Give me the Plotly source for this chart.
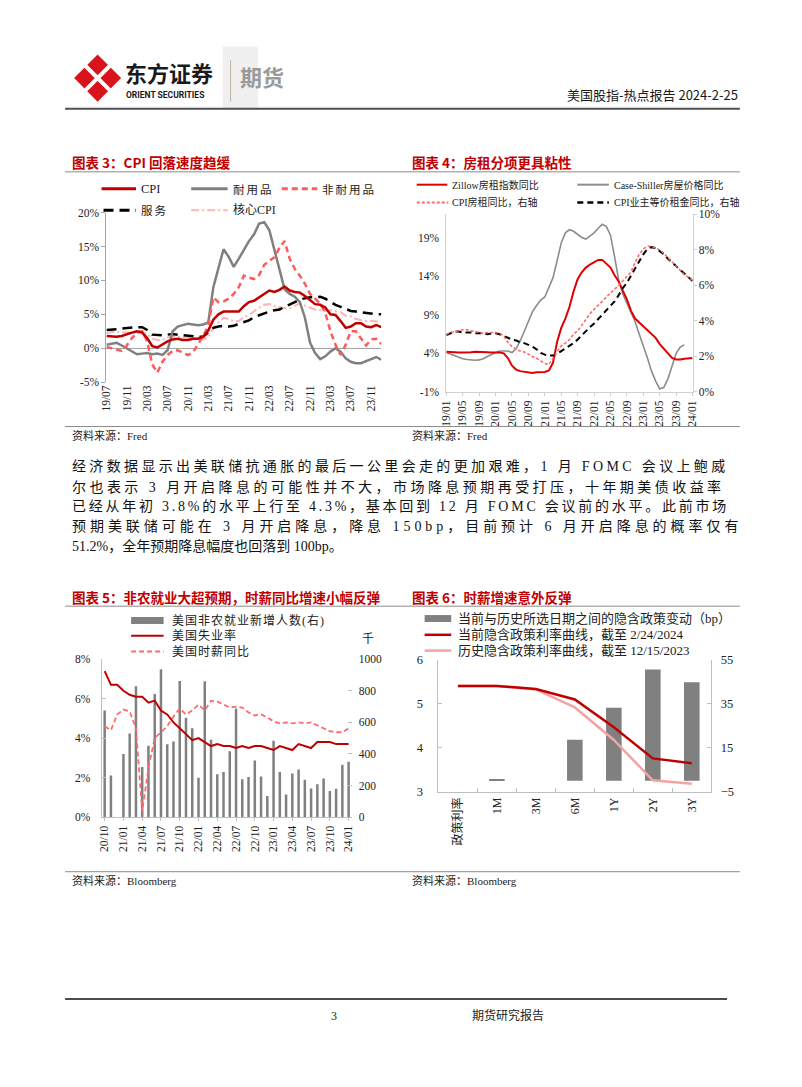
import plotly.graph_objects as go

W, H = 802, 1087


def px(x):
    return x / W


def py(y):
    return 1 - y / H


def months(y0, m0, n):
    out = []
    y, m = y0, m0
    for _ in range(n):
        out.append(f"{y}-{m:02d}")
        m += 1
        if m > 12:
            m = 1
            y += 1
    return out


SERIF = "Liberation Serif, Noto Sans CJK SC"
CJK = "Noto Sans CJK SC"
RED = "#C00000"

# ---------------- Chart 3 data (CPI components, YoY %) ----------------
c3_months = months(2019, 7, 55)
c3_ticktext = ["19/07", "19/11", "20/03", "20/07", "20/11", "21/03", "21/07",
               "21/11", "22/03", "22/07", "22/11", "23/03", "23/07", "23/11"]
c3_yvals = [-5, 0, 5, 10, 15, 20]
c3_ylabels = ["-5%", "0%", "5%", "10%", "15%", "20%"]
cpi = [1.8, 1.7, 1.7, 1.8, 2.1, 2.3, 2.5, 2.3, 1.5, 0.3, 0.1, 0.6, 1.0, 1.3,
       1.4, 1.2, 1.2, 1.4, 1.4, 1.7, 2.6, 4.2, 5.0, 5.4, 5.4, 5.3, 5.4, 6.2,
       6.8, 7.0, 7.5, 7.9, 8.5, 8.3, 8.6, 9.1, 8.5, 8.3, 8.2, 7.7, 7.1, 6.5,
       6.4, 6.0, 5.0, 4.9, 4.0, 3.0, 3.2, 3.7, 3.7, 3.2, 3.1, 3.4, 3.1]
durables = [0.5, 0.6, 0.8, 0.4, 0.0, -0.4, -0.9, -0.8, -0.7, -0.9, -0.8, -1.0,
            -0.3, 2.5, 3.2, 3.4, 3.6, 3.5, 3.4, 3.5, 3.8, 9.0, 12.0, 14.6,
            13.5, 12.0, 13.2, 14.5, 15.8, 16.8, 18.4, 18.6, 17.4, 14.5, 11.5,
            8.7, 8.0, 7.6, 6.8, 4.5, 0.8, -0.7, -1.6, -1.2, -0.5, 0.0, -0.5,
            -1.5, -2.0, -2.2, -2.2, -1.9, -1.5, -1.3, -1.7]
nondurables = [0.2, 0.0, -0.3, -0.4, 0.4, 1.5, 2.3, 2.5, 1.0, -2.4, -3.6, -2.0,
               -1.0, -0.4, -0.3, -0.6, -1.0, -0.6, 0.6, 1.8, 3.3, 7.5, 6.8,
               6.9, 7.3, 8.0, 9.0, 10.7, 10.4, 10.2, 10.8, 12.3, 12.9, 13.4,
               14.8, 15.8, 13.2, 11.7, 10.7, 9.5, 8.0, 7.3, 6.6, 5.2, 2.5, 0.5,
               -1.0, 0.5, 2.5, 2.5, 1.5, 0.4, 1.3, 1.4, 0.6]
services = [2.7, 2.7, 2.8, 2.9, 3.0, 3.0, 3.1, 3.1, 2.7, 2.0, 1.9, 1.9, 2.0,
            2.1, 2.0, 1.9, 1.8, 1.7, 1.7, 1.7, 2.3, 3.0, 3.2, 3.3, 3.2, 3.3,
            3.6, 3.9, 4.1, 4.6, 4.9, 5.2, 5.4, 5.6, 5.7, 6.1, 6.4, 6.8, 7.2,
            7.4, 7.5, 7.5, 7.6, 7.3, 6.8, 6.4, 6.1, 5.8, 5.5, 5.4, 5.3, 5.1,
            5.0, 5.0, 5.0]
core_cpi = [2.2, 2.4, 2.4, 2.3, 2.3, 2.3, 2.3, 2.4, 2.1, 1.4, 1.2, 1.2, 1.6,
            1.7, 1.7, 1.6, 1.6, 1.6, 1.4, 1.3, 1.6, 3.0, 3.8, 4.5, 4.3, 4.0,
            4.0, 4.6, 4.9, 5.5, 6.0, 6.4, 6.5, 6.2, 6.0, 5.9, 5.9, 6.3, 6.6,
            6.3, 6.0, 5.7, 5.6, 5.5, 5.6, 5.5, 5.3, 4.8, 4.7, 4.3, 4.1, 4.0,
            4.0, 3.9, 3.9]

# ---------------- Chart 4 data (rent, YoY %) ----------------
c4_months = months(2019, 1, 61)
c4_ticktext = ["19/01", "19/05", "19/09", "20/01", "20/05", "20/09", "21/01",
               "21/05", "21/09", "22/01", "22/05", "22/09", "23/01", "23/05",
               "23/09", "24/01"]
c4_lvals = [-1, 4, 9, 14, 19]
c4_llabels = ["-1%", "4%", "9%", "14%", "19%"]
c4_rvals = [0, 2, 4, 6, 8, 10]
c4_rlabels = ["0%", "2%", "4%", "6%", "8%", "10%"]
zillow = [4.2, 4.15, 4.1, 4.1, 4.1, 4.1, 4.15, 4.2, 4.2, 4.2, 4.15, 4.1, 4.1,
          4.1, 4.0, 3.4, 2.4, 1.9, 1.7, 1.6, 1.5, 1.45, 1.55, 1.6, 1.6, 1.8,
          2.8, 5.5, 7.3, 8.5, 10.0, 12.0, 13.6, 14.5, 15.1, 15.5, 15.8, 16.1,
          16.1, 15.6, 15.1, 14.1, 13.3, 12.1, 11.0, 9.5, 8.5, 8.0, 7.5, 7.0,
          6.5, 6.0, 5.2, 4.6, 3.9, 3.4, 3.2, 3.2, 3.3, 3.35, 3.4]
case_shiller = [4.1, 3.9, 3.7, 3.45, 3.3, 3.2, 3.15, 3.1, 3.15, 3.3, 3.6, 3.9,
                4.1, 4.3, 4.3, 4.3, 4.1, 4.6, 5.6, 6.9, 8.2, 9.4, 10.2, 10.9,
                11.3, 12.5, 13.8, 16.0, 18.3, 19.6, 20.0, 19.8, 19.4, 19.0,
                18.8, 19.2, 19.6, 20.2, 20.7, 20.4, 19.3, 16.5, 13.5, 11.7,
                10.5, 9.2, 8.1, 6.5, 5.0, 3.4, 1.7, 0.4, -0.6, -0.4, 0.7, 2.5,
                4.0, 4.8, 5.1, None, None]
cpi_rent = [3.25, 3.35, 3.4, 3.45, 3.5, 3.5, 3.45, 3.4, 3.35, 3.3, 3.35, 3.35,
            3.35, 3.3, 3.15, 2.8, 2.55, 2.4, 2.3, 2.25, 2.1, 2.0, 1.9, 1.75,
            1.6, 1.55, 1.9, 2.3, 2.6, 2.75, 2.95, 3.25, 3.45, 3.75, 4.1, 4.4,
            4.65, 4.85, 5.1, 5.35, 5.55, 5.75, 6.0, 6.25, 6.5, 6.75, 7.3, 7.75,
            8.05, 8.2, 8.2, 8.1, 8.0, 7.8, 7.55, 7.3, 7.05, 6.8, 6.6, 6.45, 6.3]
oer = [3.2, 3.3, 3.4, 3.4, 3.35, 3.35, 3.35, 3.3, 3.3, 3.3, 3.25, 3.3, 3.3,
       3.25, 3.15, 3.05, 2.95, 2.9, 2.8, 2.75, 2.65, 2.55, 2.4, 2.2, 2.1, 2.05,
       2.05, 2.15, 2.3, 2.45, 2.6, 2.75, 2.95, 3.2, 3.45, 3.65, 3.85, 4.1,
       4.35, 4.55, 4.8, 5.1, 5.45, 5.85, 6.15, 6.55, 6.95, 7.35, 7.75, 8.05,
       8.15, 8.1, 7.95, 7.75, 7.5, 7.3, 7.05, 6.85, 6.65, 6.45, 6.25]

# ---------------- Chart 5 data (payrolls / unemployment / wages) ----------------
c5_months = months(2020, 10, 40)
c5_ticktext = ["20/10", "21/01", "21/04", "21/07", "21/10", "22/01", "22/04",
               "22/07", "22/10", "23/01", "23/04", "23/07", "23/10", "24/01"]
c5_lvals = [0, 2, 4, 6, 8]
c5_llabels = ["0%", "2%", "4%", "6%", "8%"]
c5_rvals = [0, 200, 400, 600, 800, 1000]
payrolls = [675, 264, None, 400, 529, 829, 317, 452, 779, 937, 462, 479, 862,
            629, 562, 250, 860, 490, 271, 285, 417, 687, 240, 254, 358, 258,
            133, 483, 285, 144, 277, 302, 237, 181, 208, 244, 165, 179, 331,
            350]
unemployment = [7.4, 6.7, 6.7, 6.4, 6.2, 6.1, 6.1, 5.8, 5.9, 5.4, 5.2, 4.8,
                4.5, 4.2, 3.9, 4.0, 3.8, 3.6, 3.7, 3.6, 3.6, 3.5, 3.6, 3.5,
                3.6, 3.6, 3.5, 3.4, 3.6, 3.5, 3.4, 3.7, 3.6, 3.5, 3.8, 3.8,
                3.8, 3.7, 3.7, 3.7]
wages = [4.6, 4.4, 5.2, 5.45, 5.35, 4.5, 0.3, 2.5, 4.0, 4.3, 4.6, 5.1, 5.5,
         5.2, 5.4, 5.7, 5.4, 5.9, 5.85, 5.7, 5.55, 5.6, 5.55, 5.3, 5.15, 5.2,
         5.05, 4.85, 4.75, 4.8, 4.75, 4.8, 4.75, 4.8, 4.65, 4.5, 4.35, 4.3,
         4.3, 4.5]

# ---------------- Chart 6 data (implied policy path) ----------------
c6_cats = ["政策利率", "1M", "3M", "6M", "1Y", "2Y", "3Y"]
c6_lvals = [3, 4, 5, 6]
c6_rvals = [-5, 15, 35, 55]
change_bp = [0, 0.8, 0, 18.7, 33.2, 50.7, 44.9]
curve_now = [5.41, 5.41, 5.34, 5.10, 4.47, 3.76, 3.65]
curve_hist = [5.41, 5.41, 5.33, 4.92, 4.18, 3.26, 3.18]

fig = go.Figure()

# Chart 3 traces
c3_styles = [
    ("核心CPI", core_cpi, dict(color="#FFB3B3", width=2, dash="8px,3px,2px,3px")),
    ("服务", services, dict(color="#000000", width=2.5, dash="10px,6px")),
    ("耐用品", durables, dict(color="#808080", width=2.5)),
    ("非耐用品", nondurables, dict(color="#FF5B5B", width=2.5, dash="6px,4px")),
    ("CPI", cpi, dict(color=RED, width=2.5)),
]
for name, vals, ln in c3_styles:
    fig.add_trace(go.Scatter(x=c3_months, y=vals, name=name, mode="lines",
                             line=ln, xaxis="x", yaxis="y", showlegend=False))

# Chart 4 traces
fig.add_trace(go.Scatter(x=c4_months, y=case_shiller, name="Case-Shiller房屋价格同比",
                         mode="lines", line=dict(color="#8C8C8C", width=1.6),
                         xaxis="x2", yaxis="y2", showlegend=False))
fig.add_trace(go.Scatter(x=c4_months, y=zillow, name="Zillow房租指数同比",
                         mode="lines", line=dict(color="#E00000", width=2),
                         xaxis="x2", yaxis="y2", showlegend=False))
fig.add_trace(go.Scatter(x=c4_months, y=oer, name="CPI业主等价租金同比，右轴",
                         mode="lines", line=dict(color="#000000", width=2, dash="6px,4px"),
                         xaxis="x2", yaxis="y3", showlegend=False))
fig.add_trace(go.Scatter(x=c4_months, y=cpi_rent, name="CPI房租同比，右轴",
                         mode="lines", line=dict(color="#FF6B6B", width=1.6, dash="3px,2px"),
                         xaxis="x2", yaxis="y3", showlegend=False))

# Chart 5 traces (bars on base right axis, lines on overlaying left axis)
fig.add_trace(go.Bar(x=c5_months, y=payrolls, name="美国非农就业新增人数(右)",
                     marker=dict(color="#808080", line=dict(width=0)), width=0.4,
                     xaxis="x3", yaxis="y4", showlegend=False))
fig.add_trace(go.Scatter(x=c5_months, y=wages, name="美国时薪同比", mode="lines",
                         line=dict(color="#FF6B6B", width=1.8, dash="5px,3px"),
                         xaxis="x3", yaxis="y5", showlegend=False))
fig.add_trace(go.Scatter(x=c5_months, y=unemployment, name="美国失业率", mode="lines",
                         line=dict(color=RED, width=2),
                         xaxis="x3", yaxis="y5", showlegend=False))

# Chart 6 traces
fig.add_trace(go.Bar(x=c6_cats, y=change_bp, name="当前与历史所选日期之间的隐含政策变动（bp）",
                     marker=dict(color="#808080", line=dict(width=0)), width=0.4,
                     xaxis="x4", yaxis="y6", showlegend=False))
fig.add_trace(go.Scatter(x=c6_cats, y=curve_hist, name="历史隐含政策利率曲线", mode="lines",
                         line=dict(color="#F4A3A3", width=2.5),
                         xaxis="x4", yaxis="y7", showlegend=False))
fig.add_trace(go.Scatter(x=c6_cats, y=curve_now, name="当前隐含政策利率曲线", mode="lines",
                         line=dict(color=RED, width=2.5),
                         xaxis="x4", yaxis="y7", showlegend=False))

tickfont = dict(family=SERIF, size=11.5, color="#222222")
AX = "#A6A6A6"

layout = dict(
    width=W, height=H, margin=dict(l=0, r=0, t=0, b=0),
    paper_bgcolor="white", plot_bgcolor="rgba(0,0,0,0)",
    font=dict(family=SERIF, color="#222222"),
    # chart 3
    xaxis=dict(domain=[px(102), px(381)], anchor="y", type="category",
               range=[0, 54], tickmode="array", tickvals=c3_months[::4],
               ticktext=c3_ticktext, tickangle=-90, tickfont=tickfont,
               showline=False, showgrid=False, zeroline=False, ticks=""),
    yaxis=dict(domain=[py(380), py(208.3)], anchor="x", range=[-5, 20],
               tickmode="array", tickvals=c3_yvals, ticktext=c3_ylabels,
               tickfont=tickfont, showline=True, linecolor=AX, linewidth=1,
               ticks="outside", ticklen=4, tickcolor=AX, showgrid=False,
               zeroline=True, zerolinecolor=AX, zerolinewidth=1),
    # chart 4
    xaxis2=dict(domain=[px(447), px(697)], anchor="y2", type="category",
                range=[0, 60], tickmode="array", tickvals=c4_months[::4],
                ticktext=c4_ticktext, tickangle=-90, tickfont=tickfont,
                showline=True, linecolor="#D0D0D0", ticks="outside", ticklen=3,
                tickcolor="#D0D0D0", showgrid=False, zeroline=False),
    yaxis2=dict(domain=[py(390), py(210)], anchor="x2", range=[-1, 22],
                tickmode="array", tickvals=c4_lvals, ticktext=c4_llabels,
                tickfont=tickfont, showline=True, linecolor="#D0D0D0", ticks="",
                ticklabelstandoff=4, showgrid=False, zeroline=False),
    yaxis3=dict(overlaying="y2", anchor="x2", side="right", range=[0, 10],
                tickmode="array", tickvals=c4_rvals, ticktext=c4_rlabels,
                tickfont=tickfont, showline=True, linecolor="#D0D0D0",
                ticks="outside", ticklen=3, tickcolor="#D0D0D0", showgrid=False,
                zeroline=False),
    # chart 5
    xaxis3=dict(domain=[px(97), px(351)], anchor="y4", type="category",
                range=[-0.5, 39.5], tickmode="array", tickvals=c5_months[::3],
                ticktext=c5_ticktext, tickangle=-90, tickfont=tickfont,
                showline=True, linecolor="#BFBFBF", ticks="outside", ticklen=3,
                tickcolor="#BFBFBF", showgrid=False, zeroline=False),
    yaxis4=dict(domain=[py(820.7), py(660.7)], anchor="x3", side="right",
                range=[0, 1000], tickmode="array", tickvals=c5_rvals,
                tickfont=tickfont, showline=False, ticks="inside", ticklen=4,
                tickcolor="#BFBFBF", ticklabelstandoff=6, showgrid=False,
                zeroline=False),
    yaxis5=dict(overlaying="y4", anchor="x3", side="left", range=[0, 8],
                tickmode="array", tickvals=c5_lvals, ticktext=c5_llabels,
                tickfont=tickfont, showline=True, linecolor="#BFBFBF",
                ticks="inside", ticklen=4, tickcolor="#BFBFBF",
                ticklabelstandoff=8, showgrid=False, zeroline=False),
    # chart 6
    xaxis4=dict(domain=[px(439), px(716)], anchor="y6", type="category",
                range=[-0.5, 6.5], tickangle=-90,
                tickfont=dict(family=SERIF, size=12, color="#222222"),
                showline=True, linecolor="#BFBFBF", ticks="inside", ticklen=4,
                tickson="boundaries", tickcolor="#BFBFBF", showgrid=False,
                zeroline=False),
    yaxis6=dict(domain=[py(795), py(661.5)], anchor="x4", side="right",
                range=[-5, 55], tickmode="array", tickvals=c6_rvals,
                tickfont=dict(family=SERIF, size=12.5, color="#222222"),
                showline=True, linecolor="#BFBFBF", ticks="inside", ticklen=4,
                tickcolor="#BFBFBF", ticklabelstandoff=6, showgrid=False,
                zeroline=False),
    yaxis7=dict(overlaying="y6", anchor="x4", side="left", range=[3, 6],
                tickmode="array", tickvals=c6_lvals,
                tickfont=dict(family=SERIF, size=12.5, color="#222222"),
                showline=True, linecolor="#BFBFBF", ticks="inside", ticklen=4,
                tickcolor="#BFBFBF", ticklabelstandoff=12, showgrid=False,
                zeroline=False),
)
fig.update_layout(**layout)

shapes = []
annots = []


def hline(x0, x1, y, color, width=1, dash="solid"):
    shapes.append(dict(type="line", xref="paper", yref="paper", x0=px(x0), x1=px(x1),
                       y0=py(y), y1=py(y), line=dict(color=color, width=width, dash=dash)))


def vline(x, y0, y1, color, width=1):
    shapes.append(dict(type="line", xref="paper", yref="paper", x0=px(x), x1=px(x),
                       y0=py(y0), y1=py(y1), line=dict(color=color, width=width)))


def rect(x0, y0, x1, y1, color):
    shapes.append(dict(type="rect", xref="paper", yref="paper", x0=px(x0), x1=px(x1),
                       y0=py(y1), y1=py(y0), fillcolor=color, line=dict(width=0),
                       layer="below"))


def text(x, y, s, size=12, color="#222222", family=SERIF, anchor="left", bold=False,
         spacing=0):
    if bold:
        s = f"<b>{s}</b>"
    if spacing:
        s = f'<span style="letter-spacing:{spacing}px">{s}</span>'
    annots.append(dict(xref="paper", yref="paper", x=px(x), y=py(y), text=s,
                       showarrow=False, xanchor=anchor, yanchor="middle",
                       font=dict(size=size, color=color, family=family)))


# ---------- header ----------
rect(220, 40, 256, 103, "#F0F0F0")
logo_pts = [(93, 51), (114, 72), (93, 93), (72, 72)]
path = "M " + " L ".join(f"{px(x)},{py(y)}" for x, y in logo_pts) + " Z"
shapes.append(dict(type="path", xref="paper", yref="paper", path=path,
                   fillcolor="#D7141A", line=dict(color="#D7141A", width=4)))
shapes.append(dict(type="line", xref="paper", yref="paper", x0=px(80), x1=px(106),
                   y0=py(59), y1=py(85), line=dict(color="white", width=4)))
shapes.append(dict(type="line", xref="paper", yref="paper", x0=px(80), x1=px(106),
                   y0=py(85), y1=py(59), line=dict(color="white", width=4)))
text(119, 66, "东方证券", size=22, color="#1A1A1A", family=CJK, bold=True)
text(120, 89, "ORIENT SECURITIES", size=8.5, color="#1A1A1A", family="Roboto", bold=True)
vline(228, 54, 96, "#BDB39E", 1)
text(236, 70, "期货", size=22, color="#9A9A9A", family=CJK, bold=True)
text(745, 89, "美国股指-热点报告 2024-2-25", size=13, color="#1A1A1A", family=CJK, anchor="right")
hline(60, 745, 103, "#505050", 2)

# ---------- chart 3 ----------
text(65, 157, "图表 3：CPI 回落速度趋缓", size=13.5, color=RED, family=CJK, bold=True)
hline(60, 400, 167, "#8C8C8C", 1)
hline(97, 132, 184, RED, 3)
text(135, 184, "CPI", size=12.5)
hline(188, 225, 184, "#808080", 3)
text(228, 184, "耐用品", size=11.5, family=CJK, spacing=2)
hline(280, 316, 184, "#FF5B5B", 3, "6px,4px")
text(319, 184, "非耐用品", size=11.5, family=CJK, spacing=2)
hline(99, 132, 206, "#000000", 3, "10px,6px")
text(135, 206, "服务", size=11.5, family=CJK, spacing=2)
hline(188, 225, 206, "#FFB3B3", 2, "8px,3px,2px,3px")
text(228, 206, "核心CPI", size=12)
hline(60, 745, 425, "#8C8C8C", 1)
text(65, 434, "资料来源：Fred", size=11)

# ---------- chart 4 ----------
text(410, 157, "图表 4：房租分项更具粘性", size=13.5, color=RED, family=CJK, bold=True)
hline(400, 745, 167, "#8C8C8C", 1)
hline(417, 448, 180, "#E00000", 2)
text(451, 180, "Zillow房租指数同比", size=10)
hline(580, 612, 180, "#8C8C8C", 2)
text(615, 180, "Case-Shiller房屋价格同比", size=10)
hline(417, 449, 198, "#FF6B6B", 2, "3px,2px")
text(451, 198, "CPI房租同比，右轴", size=10)
hline(580, 612, 198, "#000000", 2.5, "6px,4px")
text(615, 198, "CPI业主等价租金同比，右轴", size=10)
text(410, 434, "资料来源：Fred", size=11)

# ---------- paragraph ----------
para = [
    "经济数据显示出美联储抗通胀的最后一公里会走的更加艰难，1 月 FOMC 会议上鲍威",
    "尔也表示 3 月开启降息的可能性并不大，市场降息预期再受打压，十年期美债收益率",
    "已经从年初 3.8%的水平上行至 4.3%，基本回到 12 月 FOMC 会议前的水平。此前市场",
    "预期美联储可能在 3 月开启降息，降息 150bp，目前预计 6 月开启降息的概率仅有",
    "51.2%，全年预期降息幅度也回落到 100bp。",
]
para_spacing = [3.35, 3.45, 2.75, 3.95, 0]
for i, line in enumerate(para):
    text(65, 466 + 20 * i, line, size=14, color="#111111", spacing=para_spacing[i])

# ---------- chart 5 ----------
text(65, 598, "图表 5：非农就业大超预期，时薪同比增速小幅反弹", size=13.5, color=RED,
     family=CJK, bold=True)
hline(60, 400, 607, "#8C8C8C", 1)
rect(127, 618, 160, 625, "#808080")
text(166, 622, "美国非农就业新增人数(右)", size=12, spacing=1)
hline(127, 160, 637, RED, 2)
text(166, 637, "美国失业率", size=12, spacing=1)
hline(127, 160, 653, "#FF6B6B", 2, "5px,3px")
text(166, 653, "美国时薪同比", size=12, spacing=1)
text(367, 640, "千", size=12, anchor="center")
hline(60, 745, 876, "#8C8C8C", 1)
text(65, 885, "资料来源：Bloomberg", size=11)

# ---------- chart 6 ----------
text(410, 598, "图表 6：时薪增速意外反弹", size=13.5, color=RED, family=CJK, bold=True)
hline(400, 745, 607, "#8C8C8C", 1)
rect(425, 616, 452, 623, "#808080")
text(457, 619, "当前与历史所选日期之间的隐含政策变动（bp）", size=13)
hline(425, 452, 636, RED, 2.5)
text(457, 636, "当前隐含政策利率曲线，截至 2/24/2024", size=13)
hline(425, 452, 652, "#F4A3A3", 2.5)
text(457, 652, "历史隐含政策利率曲线，截至 12/15/2023", size=13)
text(410, 885, "资料来源：Bloomberg", size=11)

# ---------- footer ----------
hline(60, 732, 1005, "#111111", 1.5)
text(333, 1022, "3", size=12, anchor="center")
text(510, 1022, "期货研究报告", size=12, anchor="center")

fig.update_layout(shapes=shapes, annotations=annots)

fig.write_html("out.html", config={"displayModeBar": False},
               post_script="document.body.style.margin='0px';")
